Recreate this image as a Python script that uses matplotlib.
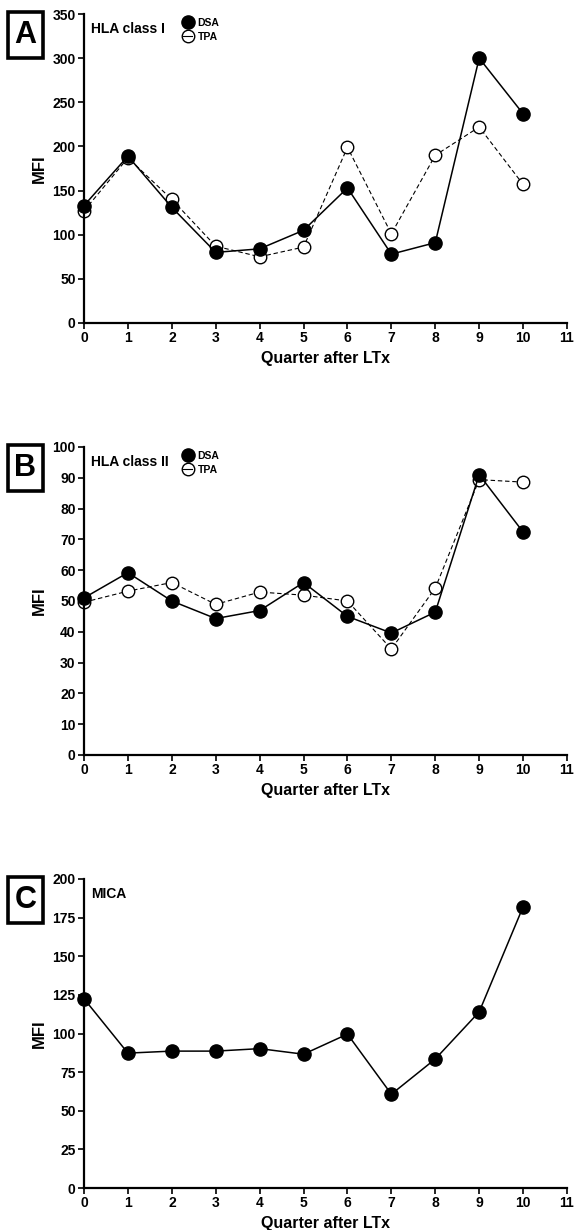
import matplotlib
matplotlib.use('Agg')
import matplotlib.pyplot as plt
from matplotlib.lines import Line2D
from matplotlib.patches import Rectangle

plt.rcParams['font.family'] = ['Liberation Sans', 'DejaVu Sans']
plt.rcParams['font.weight'] = 'bold'

# Quarters after liver transplantation
quarters = [0, 1, 2, 3, 4, 5, 6, 7, 8, 9, 10]

# HLA class I MFI
class1_dsa = [133, 189, 131, 80, 84, 105, 153, 78, 91, 300, 237]
class1_tpa = [127, 187, 140, 87, 75, 86, 199, 101, 190, 222, 157]

# HLA class II MFI
class2_dsa = [51, 59.2, 50, 44.3, 46.9, 56, 45, 39.6, 46.4, 91, 72.4]
class2_tpa = [49.6, 53.2, 56, 48.9, 52.9, 51.9, 50, 34.4, 54.2, 89.4, 88.6]

# MICA MFI
mica = [122.5, 87.3, 88.6, 88.6, 90.2, 86.6, 99.6, 60.7, 83.5, 114, 182]

W, H = 575, 1230
fig = plt.figure(figsize=(W / 100, H / 100), dpi=100)


def make_axes(top_px, bot_px, ymax, ystep, letter, title, series):
    left_px, right_px = 84, 567
    ax = fig.add_axes([left_px / W, 1 - bot_px / H,
                       (right_px - left_px) / W, (bot_px - top_px) / H])
    for name, vals, filled in series:
        if filled:
            ax.plot(quarters, vals, color='black', lw=1.1, ls='-',
                    marker='o', ms=9.5, mfc='black', mec='black',
                    clip_on=False, zorder=3)
        else:
            ax.plot(quarters, vals, color='black', lw=0.8, ls=(0, (4, 2.5)),
                    marker='o', ms=9, mfc='white', mec='black', mew=1.0,
                    clip_on=False, zorder=2)
    ax.set_xlim(0, 11)
    ax.set_ylim(0, ymax)
    ax.set_xticks(range(0, 12))
    ax.set_yticks(range(0, ymax + 1, ystep))
    for s in ['top', 'right']:
        ax.spines[s].set_visible(False)
    for s in ['left', 'bottom']:
        ax.spines[s].set_linewidth(1.6)
    ax.tick_params(direction='out', length=4, width=1.2, pad=2,
                   labelsize=10)
    for lab in ax.get_xticklabels() + ax.get_yticklabels():
        lab.set_fontweight('bold')
    ax.set_ylabel('MFI', fontsize=12, fontweight='bold', labelpad=4)
    ax.set_xlabel('Quarter after LTx', fontsize=11.5, fontweight='bold',
                  labelpad=4)
    ax.text(0.015, 1 - 15 / (bot_px - top_px), title, transform=ax.transAxes,
            fontsize=10, fontweight='bold', va='center', ha='left')

    if len(series) > 1:
        handles = []
        for name, vals, filled in series:
            if filled:
                handles.append(Line2D([], [], color='black', lw=1.1,
                                      marker='o', ms=9.5, mfc='black',
                                      label=name))
            else:
                handles.append(Line2D([], [], color='black', lw=0.8,
                                      marker='o', ms=9, mfc='none',
                                      label=name))
        ax.legend(handles=handles, loc='upper left',
                  bbox_to_anchor=(0.205, 1 - 4 / (bot_px - top_px)),
                  frameon=False, handlelength=0.9, handletextpad=0.5,
                  labelspacing=0.35, borderpad=0, borderaxespad=0,
                  prop={'size': 7.5, 'weight': 'bold'})

    # panel letter in a square frame
    bx0, bx1 = 8, 43
    by0, by1 = top_px - 2, top_px + 44
    fig.patches.append(Rectangle((bx0 / W, 1 - by1 / H),
                                 (bx1 - bx0) / W, (by1 - by0) / H,
                                 transform=fig.transFigure, fill=False,
                                 lw=2.6, ec='black'))
    fig.text((bx0 + bx1) / 2 / W, 1 - (by0 + by1) / 2 / H, letter,
             fontsize=22, fontweight='bold', ha='center', va='center')
    return ax


make_axes(14, 323, 350, 50, 'A', 'HLA class I',
          [('DSA', class1_dsa, True), ('TPA', class1_tpa, False)])
make_axes(447, 755, 100, 10, 'B', 'HLA class II',
          [('DSA', class2_dsa, True), ('TPA', class2_tpa, False)])
make_axes(879, 1188, 200, 25, 'C', 'MICA',
          [('MICA', mica, True)])

fig.savefig('out.png', dpi=100)
